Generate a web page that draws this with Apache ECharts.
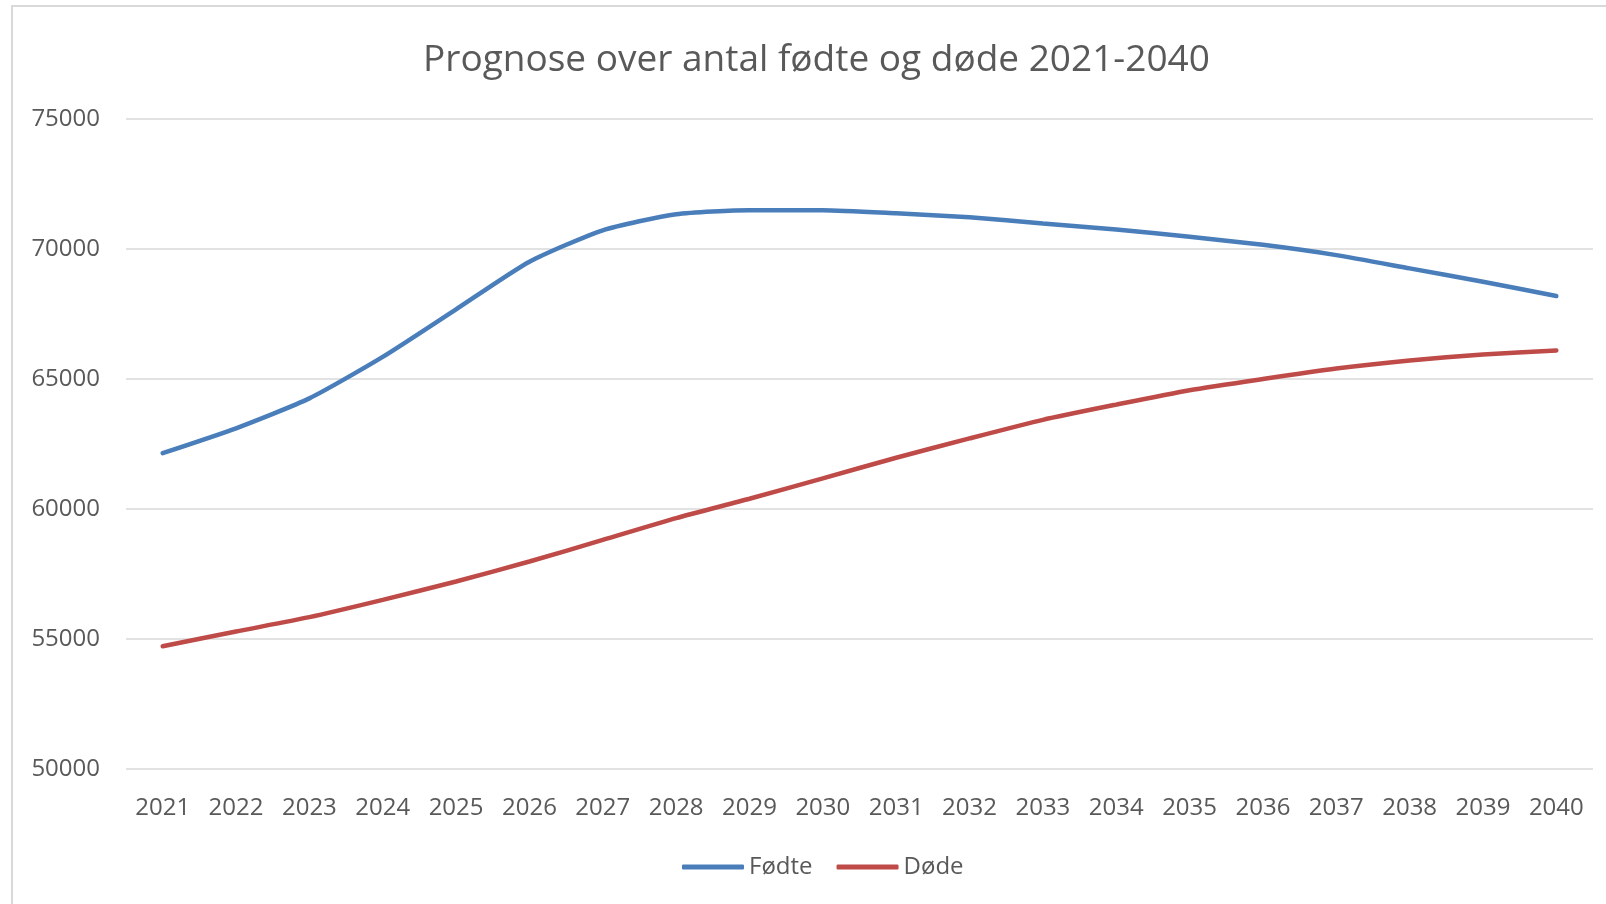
<!DOCTYPE html>
<html>
<head>
<meta charset="utf-8">
<script src="https://cdn.jsdelivr.net/npm/echarts@6/dist/echarts.min.js"></script>
<style>
  html, body { margin: 0; padding: 0; background: #fff; }
  #chart { width: 1606px; height: 904px; }
</style>
</head>
<body>
<div id="chart"></div>
<script>
// data
const years = ['2021', '2022', '2023', '2024', '2025', '2026', '2027', '2028', '2029', '2030',
  '2031', '2032', '2033', '2034', '2035', '2036', '2037', '2038', '2039', '2040']
const fodte = [62150, 63105, 64255, 65850, 67680, 69510, 70720, 71340, 71495, 71495,
  71375, 71220, 70985, 70750, 70470, 70160, 69765, 69255, 68740, 68190]
const dode = [54720, 55290, 55840, 56505, 57210, 57980, 58810, 59650, 60395, 61180,
  61970, 62715, 63430, 64015, 64570, 65000, 65400, 65710, 65945, 66100]
const yMin = 50000
const yMax = 75000
const yStep = 5000

const font = 'Open Sans'
const grey = '#595959'

const chart = echarts.init(document.getElementById('chart'))
chart.setOption({
  animation: false,
  backgroundColor: '#fff',
  graphic: [
    {
      type: 'rect',
      shape: { x: 12, y: 6, width: 1620, height: 920 },
      style: { fill: 'none', stroke: '#d9d9d9', lineWidth: 2 },
      silent: true
    }
  ],
  title: {
    text: 'Prognose over antal fødte og døde 2021-2040',
    left: 423,
    top: 42,
    padding: 0,
    textStyle: {
      fontFamily: font,
      fontSize: 37,
      fontWeight: 'normal',
      color: grey
    }
  },
  legend: {
    data: ['Fødte', 'Døde'],
    left: 682,
    top: 855,
    padding: 0,
    itemWidth: 62,
    itemHeight: 5,
    itemGap: 24,
    icon: 'roundRect',
    textStyle: {
      fontFamily: font,
      fontSize: 24,
      color: grey
    }
  },
  grid: {
    left: 126,
    right: 13,
    top: 119,
    bottom: 135
  },
  xAxis: {
    type: 'category',
    boundaryGap: true,
    data: years,
    axisLine: { show: false },
    axisTick: { show: false },
    axisLabel: {
      fontFamily: font,
      fontSize: 24,
      color: grey,
      margin: 27
    }
  },
  yAxis: {
    type: 'value',
    min: yMin,
    max: yMax,
    interval: yStep,
    axisLine: { show: false },
    axisTick: { show: false },
    splitLine: {
      lineStyle: { color: '#d9d9d9', width: 1.5 }
    },
    axisLabel: {
      fontFamily: font,
      fontSize: 24,
      color: grey,
      margin: 26,
      formatter: v => String(v)
    }
  },
  series: [
    {
      name: 'Fødte',
      type: 'line',
      smooth: 0.2,
      showSymbol: false,
      data: fodte,
      itemStyle: { color: '#4A7EBB' },
      lineStyle: { color: '#4A7EBB', width: 4.5, cap: 'round' }
    },
    {
      name: 'Døde',
      type: 'line',
      smooth: 0.2,
      showSymbol: false,
      data: dode,
      itemStyle: { color: '#BE4B48' },
      lineStyle: { color: '#BE4B48', width: 4.5, cap: 'round' }
    }
  ]
})
</script>
</body>
</html>
